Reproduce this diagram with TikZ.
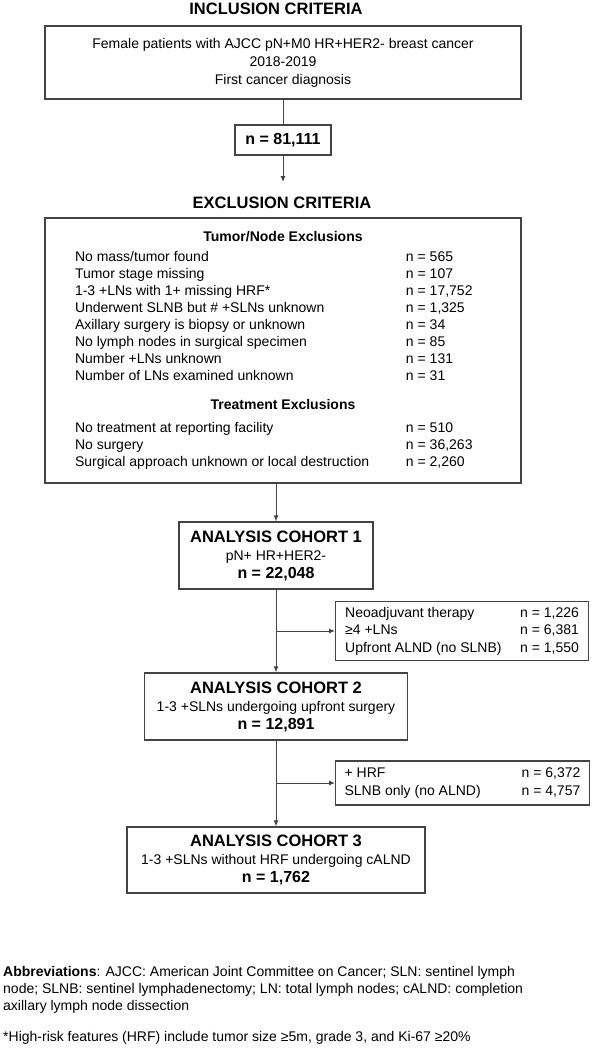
\documentclass[tikz,border=0pt]{standalone}
\usepackage{fontspec}
\setmainfont{Liberation Sans}
\usetikzlibrary{arrows.meta}
\definecolor{linegray}{HTML}{444444}
\newcommand\headfont{\fontsize{16.5}{20}\selectfont\bfseries}
\newcommand\numfont{\fontsize{16}{19}\selectfont\bfseries}
\tikzset{
  box/.style={draw=linegray, line width=1.2pt, align=center},
  tbox/.style={draw=linegray, line width=1.2pt},
  flow/.style={draw=linegray, line width=1pt, -{Latex[length=6pt,width=5pt]}},
  link/.style={draw=linegray, line width=1pt},
  head/.style={font=\headfont, inner sep=0pt},
}
\begin{document}
\begin{tikzpicture}[x=1pt,y=-1pt,every node/.style={font=\fontsize{14}{18}\selectfont}]
\useasboundingbox (0,0) rectangle (592,1050);

% inclusion
\node[head] (inctitle) at (276,9) {INCLUSION CRITERIA};
\node[box, minimum width=476pt, minimum height=73pt] (incl) at (283,62.5)
  {Female patients with AJCC pN+M0 HR+HER2- breast cancer\\2018-2019\\First cancer diagnosis};
\node[box, font=\numfont, minimum width=96pt, minimum height=30pt] (n0) at (283,140) {n = 81,111};
\coordinate (exctop) at (283,182);
\draw[link] (incl) -- (n0);
\draw[flow] (n0) -- (exctop);

% exclusion
\node[head] (exctitle) at (282,203) {EXCLUSION CRITERIA};
\node[tbox, font=\fontsize{14}{17}\selectfont, minimum width=476pt, minimum height=265pt,
      inner xsep=30pt, inner ysep=0pt] (excl) at (283,350.5) {%
  \begin{tabular}{@{}p{331pt}@{}p{85pt}@{}}
  \multicolumn{2}{@{}c@{}}{\bfseries Tumor/Node Exclusions}\\[3pt]
  No mass/tumor found & n = 565\\
  Tumor stage missing & n = 107\\
  1-3 +LNs with 1+ missing HRF* & n = 17,752\\
  Underwent SLNB but \# +SLNs unknown & n = 1,325\\
  Axillary surgery is biopsy or unknown & n = 34\\
  No lymph nodes in surgical specimen & n = 85\\
  Number +LNs unknown & n = 131\\
  Number of LNs examined unknown & n = 31\\[12pt]
  \multicolumn{2}{@{}c@{}}{\bfseries Treatment Exclusions}\\[6pt]
  No treatment at reporting facility & n = 510\\
  No surgery & n = 36,263\\
  Surgical approach unknown or local destruction & n = 2,260
  \end{tabular}};

% cohorts
\node[box, minimum width=194pt, minimum height=67pt] (c1) at (276,555.5)
  {{\headfont ANALYSIS COHORT 1}\\pN+ HR+HER2-\\{\numfont n = 22,048}};
\node[box, minimum width=263pt, minimum height=67pt] (c2) at (276,706.5)
  {{\headfont ANALYSIS COHORT 2}\\1-3 +SLNs undergoing upfront surgery\\{\numfont n = 12,891}};
\node[box, minimum width=298pt, minimum height=66pt] (c3) at (276,860)
  {{\headfont ANALYSIS COHORT 3}\\1-3 +SLNs without HRF undergoing cALND\\{\numfont n = 1,762}};

% side exclusions
\node[tbox, anchor=west, font=\fontsize{14}{17.5}\selectfont, minimum width=253pt,
      minimum height=58pt, inner xsep=9pt] (side1) at (335,631) {%
  \begin{tabular}{@{}p{175pt}@{}l@{}}
  Neoadjuvant therapy & n = 1,226\\
  ≥4 +LNs & n = 6,381\\
  Upfront ALND (no SLNB) & n = 1,550
  \end{tabular}};
\node[tbox, anchor=west, font=\fontsize{14}{18}\selectfont, minimum width=253pt,
      minimum height=44pt, inner xsep=9pt] (side2) at (335,783) {%
  \begin{tabular}{@{}p{177pt}@{}l@{}}
  + HRF & n = 6,372\\
  SLNB only (no ALND) & n = 4,757
  \end{tabular}};

\draw[flow] (c1.north |- excl.south) -- (c1.north);
\draw[flow] (c1) -- (c2);
\draw[flow] (c2) -- (c3);
\draw[flow] (c1.south |- side1.west) -- (side1.west);
\draw[flow] (c2.south |- side2.west) -- (side2.west);

% notes
\node[anchor=north west, inner sep=0pt, align=left, font=\fontsize{14}{17}\selectfont] (abbr) at (3,966)
  {\textbf{Abbreviations}: AJCC: American Joint Committee on Cancer; SLN: sentinel lymph\\
   node; SLNB: sentinel lymphadenectomy; LN: total lymph nodes; cALND: completion\\
   axillary lymph node dissection};
\node[anchor=west, inner sep=0pt, font=\fontsize{14}{17}\selectfont] (hrf) at (3,1038)
  {*High-risk features (HRF) include tumor size ≥5m, grade 3, and Ki-67 ≥20\%};
\end{tikzpicture}
\end{document}
